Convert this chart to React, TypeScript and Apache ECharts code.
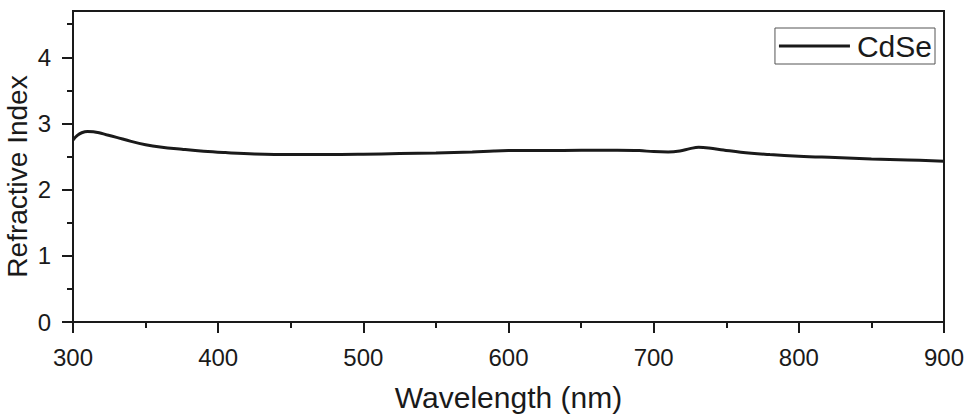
import React, { useEffect, useRef } from "react";
import * as echarts from "echarts";

const wavelengths = [300, 303, 306, 310, 314, 318, 323, 330, 340, 350, 360, 375, 390, 405, 425, 450, 475, 500, 525, 550, 575, 590, 600, 625, 650, 675, 690, 700, 710, 718, 725, 731, 738, 748, 760, 780, 800, 825, 850, 875, 900];
const refractive = [2.75, 2.82, 2.86, 2.88, 2.875, 2.86, 2.83, 2.79, 2.73, 2.68, 2.645, 2.61, 2.58, 2.56, 2.54, 2.53, 2.53, 2.535, 2.545, 2.555, 2.57, 2.585, 2.59, 2.59, 2.595, 2.595, 2.59, 2.575, 2.57, 2.585, 2.62, 2.64, 2.63, 2.6, 2.565, 2.53, 2.505, 2.485, 2.465, 2.45, 2.43];
const seriesName = "CdSe";
const yMajorTicks = [0, 1, 2, 3, 4];
const yMinorTicks = [0.5, 1.5, 2.5, 3.5, 4.5];
const xTitle = "Wavelength (nm)";
const yTitle = "Refractive Index";

const FONT = "'Liberation Sans', Arial, Helvetica, sans-serif";
const INK = "#1a1a1a";

export default function App() {
  const ref = useRef<HTMLDivElement>(null);
  useEffect(() => {
    if (!ref.current) return;
    const chart = echarts.init(ref.current, null, { renderer: "svg" });
    const data = wavelengths.map((w, i) => [w, refractive[i]]);
    chart.setOption({
      animation: false,
      backgroundColor: "#fff",
      textStyle: { fontFamily: FONT, color: INK },
      grid: {
        left: 73,
        right: 34,
        top: 11,
        bottom: 97,
        containLabel: false,
        outerBoundsMode: "none",
        show: true,
        borderColor: INK,
        borderWidth: 2,
        backgroundColor: "transparent",
      },
      legend: {
        right: 43,
        top: 28,
        padding: [3, 3, 3, 4],
        borderColor: "#555",
        borderWidth: 1,
        borderRadius: 0,
        icon: "rect",
        itemWidth: 71,
        itemHeight: 3,
        itemStyle: { color: INK },
        textStyle: { fontSize: 30, fontFamily: FONT, color: INK, padding: [0, 0, 0, 2] },
        data: [seriesName],
      },
      xAxis: {
        type: "value",
        min: 300,
        max: 900,
        interval: 100,
        name: xTitle,
        nameLocation: "middle",
        nameGap: 60,
        nameMoveOverlap: false,
        nameTextStyle: { fontSize: 30, fontFamily: FONT, color: INK },
        axisLine: { show: true, lineStyle: { color: INK, width: 2 } },
        axisTick: { show: true, inside: false, length: 11, lineStyle: { color: INK, width: 2 } },
        minorTick: { show: true, splitNumber: 2, length: 6, lineStyle: { color: INK, width: 2 } },
        axisLabel: { fontSize: 24, fontFamily: FONT, color: INK, margin: 23 },
        splitLine: { show: false },
      },
      yAxis: [
        {
          type: "value",
          min: 0,
          max: 4.7,
          name: yTitle,
          nameLocation: "middle",
          nameGap: 42,
          nameMoveOverlap: false,
          nameTextStyle: { fontSize: 28, fontFamily: FONT, color: INK, padding: [0, 20, 0, 0] },
          axisLine: { show: true, lineStyle: { color: INK, width: 2 } },
          axisTick: { show: true, inside: false, length: 11, customValues: yMajorTicks, lineStyle: { color: INK, width: 2 } },
          axisLabel: { fontSize: 24, fontFamily: FONT, color: INK, margin: 22, customValues: yMajorTicks },
          splitLine: { show: false },
        },
        {
          type: "value",
          min: 0,
          max: 4.7,
          position: "left",
          axisLine: { show: false },
          axisTick: { show: true, inside: false, length: 6, customValues: yMinorTicks, lineStyle: { color: INK, width: 2 } },
          axisLabel: { show: false },
          splitLine: { show: false },
        },
      ],
      series: [
        {
          name: seriesName,
          type: "line",
          data,
          smooth: 0.4,
          symbol: "none",
          showSymbol: false,
          yAxisIndex: 0,
          lineStyle: { color: INK, width: 3 },
          itemStyle: { color: INK },
        },
      ],
    });
    return () => chart.dispose();
  }, []);
  return <div ref={ref} style={{ width: 978, height: 419, position: "absolute", left: 0, top: 0 }} />;
}
